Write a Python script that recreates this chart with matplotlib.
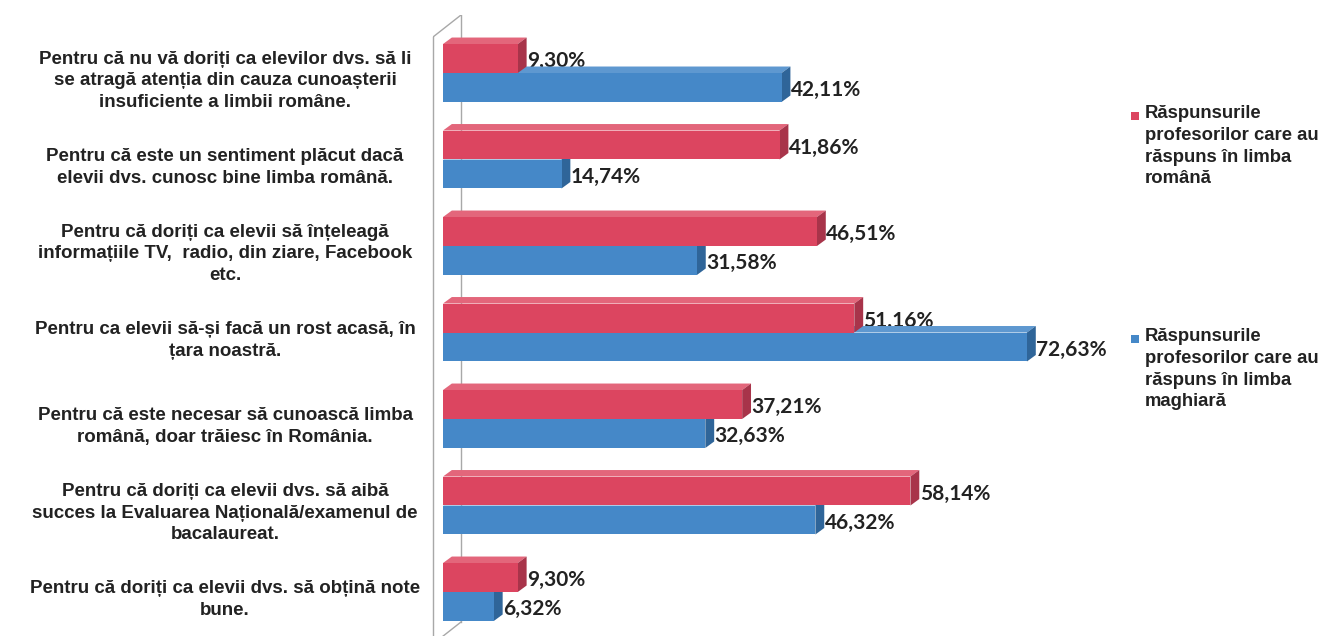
import matplotlib
matplotlib.use("Agg")
import matplotlib.pyplot as plt
from matplotlib.patches import Polygon, Rectangle
from matplotlib import transforms

categories = [
    "Pentru că nu vă doriți ca elevilor dvs. să li\nse atragă atenția din cauza cunoașterii\ninsuficiente a limbii române.",
    "Pentru că este un sentiment plăcut dacă\nelevii dvs. cunosc bine limba română.",
    "Pentru că doriți ca elevii să înțeleagă\ninformațiile TV,  radio, din ziare, Facebook\netc.",
    "Pentru ca elevii să-și facă un rost acasă, în\nțara noastră.",
    "Pentru că este necesar să cunoască limba\nromână, doar trăiesc în România.",
    "Pentru că doriți ca elevii dvs. să aibă\nsucces la Evaluarea Națională/examenul de\nbacalaureat.",
    "Pentru că doriți ca elevii dvs. să obțină note\nbune.",
]
romana = [9.30, 41.86, 46.51, 51.16, 37.21, 58.14, 9.30]
maghiara = [42.11, 14.74, 31.58, 72.63, 32.63, 46.32, 6.32]
series_names = [
    "Răspunsurile\nprofesorilor care au\nrăspuns în limba\nromână",
    "Răspunsurile\nprofesorilor care au\nrăspuns în limba\nmaghiară",
]

RED_FRONT, RED_TOP, RED_SIDE = "#DC4560", "#E3667B", "#A8344A"
BLUE_FRONT, BLUE_TOP, BLUE_SIDE = "#4588C8", "#5E98D0", "#2F6599"

W, H = 1322, 636
fig = plt.figure(figsize=(W / 100, H / 100), dpi=100)
ax_left_px, ax_right_px, ax_top_px = 433, 1100, 15
ax = fig.add_axes([ax_left_px / W, 0, (ax_right_px - ax_left_px) / W, 1 - ax_top_px / H])
pxu = 8.04   # px per percent
gpx = 86.5   # px per group
x0 = -(443 - ax_left_px) / pxu
ax.set_xlim(x0, x0 + (ax_right_px - ax_left_px) / pxu)
ax.set_ylim((H - 73) / gpx, (ax_top_px - 73) / gpx)
ax.axis("off")

# 3D wall lines
wall = "#A8A8A8"
fx = x0
bx = (461 - 443) / pxu
ytop_front = (37 - 73) / gpx
ytop_back = (15 - 73) / gpx
ybot_back = (622 - 73) / gpx
ybot_front = ybot_back + (ytop_front - ytop_back)
ax.plot([fx, fx], [ytop_front, 7], color=wall, lw=1, clip_on=False)
ax.plot([fx, bx], [ytop_front, ytop_back], color=wall, lw=1)
ax.plot([bx, bx], [ytop_back, ybot_back], color=wall, lw=1, zorder=0.5)
ax.plot([bx, fx], [ybot_back, ybot_front], color=wall, lw=1)

h = 0.335
dx = 1.1
dy = 0.075


def draw_bar(v, yc, front, top, side, z):
    ytop = yc - h / 2
    ybot = yc + h / 2
    ax.add_patch(Polygon([(0, ytop), (v, ytop), (v + dx, ytop - dy), (dx, ytop - dy)],
                         closed=True, facecolor=top, edgecolor="none", zorder=z))
    ax.add_patch(Polygon([(v, ytop), (v + dx, ytop - dy), (v + dx, ybot - dy), (v, ybot)],
                         closed=True, facecolor=side, edgecolor="none", zorder=z))
    ax.barh(yc, v, height=h, left=0, color=front, edgecolor="none", zorder=z + 0.1)


lab_kw = dict(fontsize=15, fontweight="bold", family=["Lato", "DejaVu Sans"],
              color="#222222", va="center", ha="left")

for i in range(len(categories)):
    yr = i - h / 2
    yb = i + h / 2
    ax.text(romana[i] + dx + 0.05, yr + 0.03, f"{romana[i]:.2f}%".replace(".", ","),
            zorder=1, **lab_kw)
    draw_bar(maghiara[i], yb, BLUE_FRONT, BLUE_TOP, BLUE_SIDE, 2)
    draw_bar(romana[i], yr, RED_FRONT, RED_TOP, RED_SIDE, 3)
    ax.text(maghiara[i] + dx + 0.05, yb + 0.03, f"{maghiara[i]:.2f}%".replace(".", ","),
            zorder=5, **lab_kw)

tr = transforms.blended_transform_factory(fig.transFigure, ax.transData)
for i, c in enumerate(categories):
    ax.text(225 / W, i + 0.09, c, transform=tr, ha="center", va="center",
            fontsize=13.5, fontweight="bold", family=["Liberation Sans", "DejaVu Sans"],
            color="#222222", linespacing=1.36)

# legend
leg_colors = [RED_FRONT, BLUE_FRONT]
leg_tops = [105, 328]
for name, col, top in zip(series_names, leg_colors, leg_tops):
    fig.patches.append(Rectangle((1131 / W, 1 - (top + 15) / H), 8 / W, 8 / H,
                                 transform=fig.transFigure, facecolor=col, edgecolor="none"))
    fig.text(1145 / W, 1 - top / H, name, ha="left", va="top", fontsize=13.3,
             fontweight="bold", family=["Liberation Sans", "DejaVu Sans"], color="#222222",
             linespacing=1.37)

fig.savefig("out.png", dpi=100, facecolor="white")
